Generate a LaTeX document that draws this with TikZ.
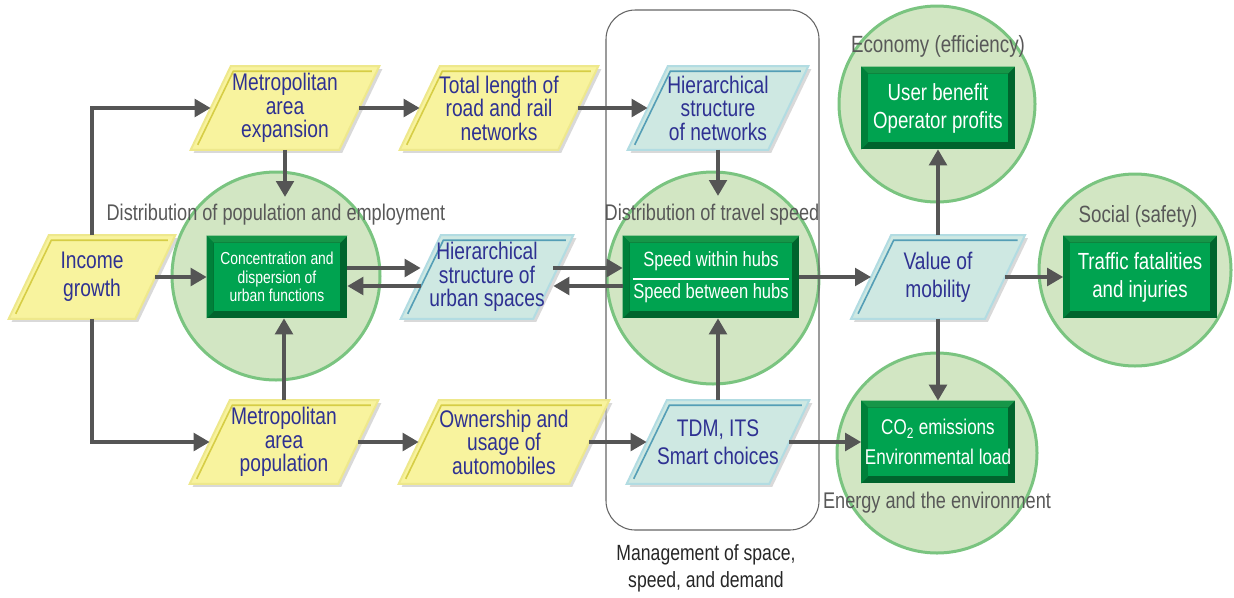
\documentclass[tikz,border=0pt]{standalone}
\usepackage{fontspec}
\setmainfont{Liberation Sans}[FakeStretch=0.8]
\usetikzlibrary{arrows.meta,calc,backgrounds}

\definecolor{yelfill}{RGB}{248,243,158}
\definecolor{yeledge}{RGB}{238,232,140}
\definecolor{yelline}{RGB}{214,205,70}
\definecolor{cyafill}{RGB}{206,232,226}
\definecolor{cyaedge}{RGB}{178,220,226}
\definecolor{cyaline}{RGB}{84,158,182}
\definecolor{txtblue}{RGB}{46,49,146}
\definecolor{circfill}{RGB}{210,230,195}
\definecolor{circedge}{RGB}{122,196,128}
\definecolor{gbdark}{RGB}{0,100,45}
\definecolor{gbtop}{RGB}{22,150,72}
\definecolor{gbside}{RGB}{0,128,58}
\definecolor{gbface}{RGB}{0,163,80}
\definecolor{arrgray}{RGB}{85,85,85}
\definecolor{lblgray}{RGB}{88,88,88}

\begin{document}
\begin{tikzpicture}[x=0.75pt,y=0.75pt,yscale=-1,xscale=1,
    para/.style={minimum width=#1, minimum height=62.25pt, inner sep=0pt, align=center, text=txtblue, font=\fontsize{18}{17.6}\selectfont},
    twoline/.style={font=\fontsize{18}{21}\selectfont},
    gbox/.style={minimum width=#1, minimum height=61.5pt, inner sep=0pt, align=center, text=white, font=\fontsize{17.5}{21}\selectfont},
    lbl/.style={text=lblgray, font=\fontsize{17}{20}\selectfont},
    circ/.style={circle, fill=circfill, draw=circedge, line width=2.25pt, inner sep=0pt, minimum size=#1},
    arr/.style={draw=arrgray, line width=3pt, -{Triangle[length=12pt,width=13pt]}}]
    \useasboundingbox (0,0) rectangle (1234,597);

    % Text Node
    \node[para=94.5pt, twoline] (inc) at (92,277) {Income\\growth};
    % Text Node
    \node[para=111pt] (exp) at (285,108) {Metropolitan\\area\\expansion};
    % Text Node
    \node[para=118.5pt] (len) at (499,108) {Total length of\\road and rail\\networks};
    % Text Node
    \node[para=105pt] (hnet) at (718,108) {Hierarchical\\structure\\of networks};
    % Text Node
    \node[para=99pt] (hurb) at (487,277) {Hierarchical\\structure of\\urban spaces};
    % Text Node
    \node[para=100pt, twoline] (val) at (938,277) {Value of\\mobility};
    % Text Node
    \node[para=111pt] (pop) at (284,442) {Metropolitan\\area\\population};
    % Text Node
    \node[para=127.5pt] (own) at (504,442) {Ownership and\\usage of\\automobiles};
    % Text Node
    \node[para=106.5pt, twoline] (tdm) at (718,442) {TDM, ITS\\Smart choices};

    % Text Node
    \node[gbox=105pt, font=\fontsize{13}{13.7}\selectfont] (conc) at (277,277) {Concentration and\\dispersion of\\urban functions};
    % Text Node
    \node[gbox=132pt, font=\fontsize{15.5}{18}\selectfont] (hubs) at (711,277) {Speed within hubs\\[6pt]Speed between hubs};
    % Text Node
    \node[gbox=114.75pt] (econ) at (938,108) {User benefit\\Operator profits};
    % Text Node
    \node[gbox=114.75pt] (safe) at (1140,277) {Traffic fatalities\\and injuries};
    % Text Node
    \node[gbox=114.75pt, font=\fontsize{16}{22.5}\selectfont] (envl) at (938,442) {CO\textsubscript{2} emissions\\Environmental load};

    % Text Node
    \node[lbl] (lpop) at (276,215) {Distribution of population and employment};
    % Text Node
    \node[lbl] (lspd) at (712,215) {Distribution of travel speed};
    % Text Node
    \node[lbl, font=\fontsize{17.6}{20}\selectfont] (lecon) at (938,46) {Economy (efficiency)};
    % Text Node
    \node[lbl, font=\fontsize{17.6}{20}\selectfont] (lsafe) at (1138,216) {Social (safety)};
    % Text Node
    \node[lbl] (lenv) at (937,503) {Energy and the environment};
    % Text Node
    \node[lbl, text=black!85, align=center, font=\fontsize{16.5}{20}\selectfont] (lmgmt) at (706,568) {Management of space,\\speed, and demand};

    \coordinate (t1) at (285,197);
    \coordinate (t2) at (718,196);

    \begin{scope}[on background layer]
    %Shape: Circle
    \node[circ=156pt] (cpop) at (276,276) {};
    \node[circ=159pt] (cspd) at (713,278) {};
    \node[circ=147pt] (cecon) at (937,104) {};
    \node[circ=144pt] (csafe) at (1135,270) {};
    \node[circ=150pt] (cenv) at (937,453) {};

    %Shape: Rectangle
    \draw[draw=black!60, line width=0.8pt, rounded corners=22pt] (606,10) rectangle (819,530);

    %Shape: Parallelogram
    \foreach \n in {inc,exp,len,pop,own}{
        \fill[gray!50, opacity=.6] ($(\n.north west)+(23,3)$) -- ($(\n.north east)+(23,3)$) -- ($(\n.south east)+(-17,3)$) -- ($(\n.south west)+(-17,3)$) -- cycle;
        \filldraw[fill=yelfill, draw=yeledge, line width=1.5pt] ($(\n.north west)+(20,0)$) -- ($(\n.north east)+(20,0)$) -- ($(\n.south east)+(-20,0)$) -- ($(\n.south west)+(-20,0)$) -- cycle;
        \draw[yelline, line width=1.2pt] ($(\n.south west)+(-13,-5)$) -- ($(\n.north west)+(22.6,5)$) -- ($(\n.north east)+(12.6,5)$);
    }
    \foreach \n in {hnet,hurb,val,tdm}{
        \fill[gray!50, opacity=.6] ($(\n.north west)+(23,3)$) -- ($(\n.north east)+(23,3)$) -- ($(\n.south east)+(-17,3)$) -- ($(\n.south west)+(-17,3)$) -- cycle;
        \filldraw[fill=cyafill, draw=cyaedge, line width=1.5pt] ($(\n.north west)+(20,0)$) -- ($(\n.north east)+(20,0)$) -- ($(\n.south east)+(-20,0)$) -- ($(\n.south west)+(-20,0)$) -- cycle;
        \draw[cyaline, line width=1.2pt] ($(\n.south west)+(-13,-5)$) -- ($(\n.north west)+(22.6,5)$) -- ($(\n.north east)+(12.6,5)$);
    }

    %Shape: Bevel Box
    \foreach \n in {conc,hubs,econ,safe,envl}{
        \fill[gbdark] (\n.north west) rectangle (\n.south east);
        \fill[gbtop] (\n.north west) -- (\n.north east) -- ($(\n.north east)+(-7,7)$) -- ($(\n.north west)+(7,7)$) -- cycle;
        \fill[gbside] (\n.north west) -- ($(\n.north west)+(7,7)$) -- ($(\n.south west)+(7,-7)$) -- (\n.south west) -- cycle;
        \fill[gbface] ($(\n.north west)+(7,7)$) rectangle ($(\n.south east)+(-7,-7)$);
    }
    \end{scope}

    %Straight Lines
    \draw[white, line width=1.5pt] ($(hubs.west)+(10,2)$) -- ($(hubs.east)+(-10,2)$);

    %Straight Lines
    \draw[arr] (inc.north) |- (exp.west);
    \draw[arr] (inc.south) |- (pop.west);
    \draw[arr] (inc.east) -- (conc.west);
    \draw[arr] (exp.east) -- (len.west);
    \draw[arr] (len.east) -- (hnet.west);
    \draw[arr] (exp.south) -- (t1);
    \draw[arr] (pop.north) -- (pop.north |- conc.south);
    \draw[arr] ($(conc.east)+(0,-9)$) -- ($(hurb.west)+(0,-9)$);
    \draw[arr] ($(hurb.west)+(0,9)$) -- ($(conc.east)+(0,9)$);
    \draw[arr] ($(hurb.east)+(0,-9)$) -- ($(hubs.west)+(0,-9)$);
    \draw[arr] ($(hubs.west)+(0,9)$) -- ($(hurb.east)+(0,9)$);
    \draw[arr] (hnet.south) -- (t2);
    \draw[arr] (tdm.north) -- (tdm.north |- hubs.south);
    \draw[arr] (pop.east) -- (own.west);
    \draw[arr] (own.east) -- (tdm.west);
    \draw[arr] (tdm.east) -- (envl.west);
    \draw[arr] (hubs.east) -- (val.west);
    \draw[arr] (val.north) -- (econ.south);
    \draw[arr] (val.south) -- (envl.north);
    \draw[arr] (val.east) -- (safe.west);

\end{tikzpicture}
\end{document}
